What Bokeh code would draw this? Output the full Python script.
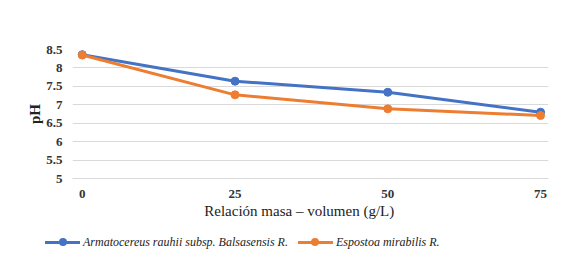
from bokeh.plotting import figure
from bokeh.layouts import column
from bokeh.models import Range1d, FixedTicker, Div
from bokeh.embed import file_html
from bokeh.resources import INLINE

x_vals = [0, 25, 50, 75]
armatocereus = [8.36, 7.64, 7.34, 6.80]
espostoa = [8.35, 7.27, 6.89, 6.71]
y_ticks = [5, 5.5, 6, 6.5, 7, 7.5, 8, 8.5]
x_ticks = [0, 25, 50, 75]
name_a = "Armatocereus rauhii subsp. Balsasensis R."
name_e = "Espostoa mirabilis R."

FONT = "Liberation Serif"
BLUE = "#4472C4"
ORANGE = "#ED7D31"

p = figure(width=555, height=222,
           output_backend="svg", toolbar_location=None,
           x_range=Range1d(-1.6, 76.3), y_range=Range1d(5, 8.5),
           min_border_left=72, min_border_right=7, min_border_top=49, min_border_bottom=44)
p.outline_line_color = None
p.background_fill_color = "white"

p.line(x_vals, armatocereus, line_color=BLUE, line_width=3)
p.scatter(x_vals, armatocereus, size=8, fill_color=BLUE, line_color=BLUE)
p.line(x_vals, espostoa, line_color=ORANGE, line_width=3)
p.scatter(x_vals, espostoa, size=8, fill_color=ORANGE, line_color=ORANGE)

p.xgrid.grid_line_color = None
p.ygrid.grid_line_color = "#D9D9D9"
p.ygrid.grid_line_width = 1
p.yaxis.ticker = FixedTicker(ticks=y_ticks)
p.xaxis.ticker = FixedTicker(ticks=x_ticks)
p.yaxis.major_label_overrides = {t: ("%g" % t) for t in y_ticks}

for ax in (p.xaxis[0], p.yaxis[0]):
    ax.major_tick_line_color = None
    ax.minor_tick_line_color = None
    ax.major_label_text_font = FONT
    ax.major_label_text_font_size = "13px"
    ax.major_label_text_color = "#333333"
    ax.major_label_text_font_style = "bold"
    ax.axis_label_text_font = FONT
    ax.axis_label_text_color = "#222222"
    ax.axis_label_text_font_style = "normal"

p.xaxis.axis_line_color = "#D9D9D9"
p.yaxis.axis_line_color = None
p.xaxis.major_label_standoff = 5
p.yaxis.major_label_standoff = 4
p.xaxis.axis_label = "Relación masa – volumen (g/L)" + "\u00a0" * 6
p.xaxis.axis_label_text_font_size = "15px"
p.xaxis.axis_label_standoff = 2
p.yaxis.axis_label = "pH"
p.yaxis.axis_label_text_font_size = "15px"
p.yaxis.axis_label_text_font_style = "bold"
p.yaxis.axis_label_standoff = 0


def swatch(color):
    return ('<span style="display:inline-block;position:relative;width:35px;height:14px;'
            'vertical-align:middle;margin-right:3px">'
            '<span style="position:absolute;left:0;top:5.5px;width:35px;height:3px;'
            'background:%s"></span>'
            '<span style="position:absolute;left:13.5px;top:3px;width:8px;height:8px;'
            'border-radius:50%%;background:%s"></span></span>' % (color, color))


legend_html = (
    '<div style="font-family:\'Liberation Serif\',\'Times New Roman\',serif;font-style:italic;'
    'font-size:12px;color:#222222;white-space:nowrap;padding-left:45px;padding-top:12px;'
    'line-height:14px">'
    + swatch(BLUE) + '<span style="vertical-align:middle">' + name_a + '</span>'
    + '<span style="display:inline-block;width:10px"></span>'
    + swatch(ORANGE) + '<span style="vertical-align:middle">' + name_e + '</span>'
    + '</div>'
)
leg = Div(text=legend_html, width=555, height=32, margin=0)

layout = column(p, leg, spacing=0)
open("out.html", "w").write(file_html(layout, INLINE))
